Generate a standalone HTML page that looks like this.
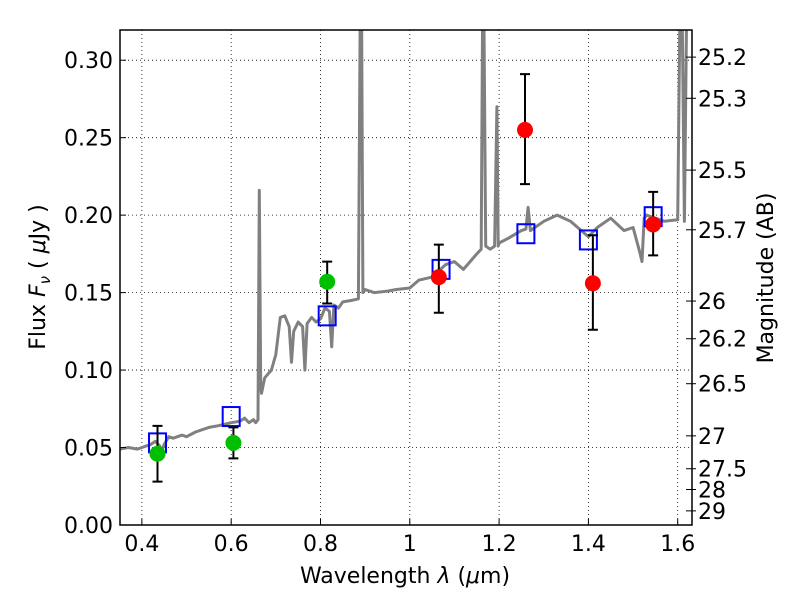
<!DOCTYPE html>
<html><head><meta charset="utf-8"><style>
body{margin:0;background:#fff;}
svg text{font-family:"DejaVu Sans","Liberation Sans",sans-serif;}
</style></head><body>
<svg id="chart" width="800" height="600" xmlns="http://www.w3.org/2000/svg">
<rect width="800" height="600" fill="#fff"/>
<g id="grid"></g>
<g id="plot"></g>
<g id="axes"></g>
<text x="405" y="583" font-size="22" text-anchor="middle">Wavelength  <tspan font-style="italic">λ</tspan> (<tspan font-style="italic">μ</tspan>m)</text>
<text transform="translate(45,277) rotate(-90)" font-size="22" text-anchor="middle">Flux  <tspan font-style="italic">F</tspan><tspan font-style="italic" font-size="15" dy="5">ν</tspan><tspan dy="-5">  (  </tspan><tspan font-style="italic">μ</tspan>Jy )</text>
<text transform="translate(773,278) rotate(-90)" font-size="22" text-anchor="middle">Magnitude (AB)</text>
</svg>
<script>
const specWave=[0.35,0.37,0.39,0.40,0.42,0.43,0.44,0.445,0.45,0.46,0.47,0.49,0.50,0.52,0.55,0.57,0.60,0.62,0.63,0.64,0.65,0.655,0.66,0.663,0.666,0.668,0.675,0.69,0.70,0.71,0.72,0.73,0.735,0.74,0.75,0.76,0.765,0.77,0.78,0.79,0.80,0.81,0.82,0.825,0.83,0.84,0.85,0.87,0.885,0.889,0.892,0.895,0.90,0.92,0.95,0.97,1.00,1.02,1.05,1.08,1.10,1.12,1.15,1.16,1.163,1.166,1.17,1.18,1.19,1.195,1.198,1.20,1.22,1.25,1.26,1.265,1.27,1.30,1.33,1.36,1.40,1.42,1.45,1.48,1.50,1.515,1.52,1.525,1.53,1.55,1.57,1.60,1.605,1.61,1.615,1.62,1.632];
const specFlux=[0.049,0.050,0.049,0.050,0.052,0.054,0.051,0.048,0.052,0.057,0.056,0.058,0.057,0.060,0.063,0.064,0.066,0.067,0.069,0.066,0.068,0.066,0.068,0.216,0.09,0.085,0.095,0.10,0.110,0.134,0.135,0.128,0.105,0.125,0.131,0.128,0.10,0.13,0.134,0.131,0.133,0.140,0.138,0.115,0.142,0.140,0.144,0.145,0.146,0.33,0.33,0.15,0.152,0.150,0.151,0.152,0.153,0.158,0.160,0.168,0.170,0.165,0.175,0.178,0.33,0.33,0.18,0.178,0.18,0.27,0.18,0.182,0.185,0.190,0.191,0.205,0.190,0.196,0.200,0.196,0.186,0.192,0.198,0.190,0.192,0.176,0.17,0.198,0.200,0.198,0.196,0.197,0.33,0.33,0.196,0.33,0.33];
const greenWave=[0.435,0.605,0.815];
const greenFlux=[0.046,0.053,0.157];
const greenLo=[0.028,0.043,0.143];
const greenHi=[0.064,0.063,0.170];
const redWave=[1.065,1.258,1.41,1.545];
const redFlux=[0.160,0.255,0.156,0.194];
const redLo=[0.137,0.220,0.126,0.174];
const redHi=[0.181,0.291,0.187,0.215];
const sqWave=[0.435,0.60,0.815,1.07,1.26,1.40,1.545];
const sqFlux=[0.053,0.070,0.135,0.165,0.188,0.184,0.199];
const xTicks=[0.4,0.6,0.8,1.0,1.2,1.4,1.6];
const xTickLabels=["0.4","0.6","0.8","1","1.2","1.4","1.6"];
const yTicks=[0,0.05,0.10,0.15,0.20,0.25,0.30];
const yTickLabels=["0.00","0.05","0.10","0.15","0.20","0.25","0.30"];
const magTicks=[25.2,25.3,25.5,25.7,26,26.2,26.5,27,27.5,28,29];
const magTickLabels=["25.2","25.3","25.5","25.7","26","26.2","26.5","27","27.5","28","29"];

const L=120,R=692,T=30,B=525;
const XMIN=0.351,XMAX=1.632,YMIN=0,YMAX=0.3195;
const xs=v=>L+(v-XMIN)/(XMAX-XMIN)*(R-L);
const ys=v=>B-(v-YMIN)/(YMAX-YMIN)*(B-T);
const NS="http://www.w3.org/2000/svg";
function mk(tag,attrs,parent){const e=document.createElementNS(NS,tag);for(const k in attrs)e.setAttribute(k,attrs[k]);parent.appendChild(e);return e;}
const grid=document.getElementById('grid'),plot=document.getElementById('plot'),axes=document.getElementById('axes');
xTicks.forEach((t,i)=>{
 const g=mk('line',{x1:xs(t),x2:xs(t),y1:T,y2:B,stroke:'#000','stroke-width':0.8,'stroke-dasharray':'1,3'},grid);
 
 
 const tk=mk('line',{x1:xs(t),x2:xs(t),y1:B,y2:B-6,stroke:'#000'},axes);
 
 
 const lb=mk('text',{x:xs(t),y:B+26,'font-size':22,'text-anchor':'middle'},axes);lb.textContent=xTickLabels[i];
 
 
});
yTicks.forEach((t,i)=>{
 if(t>0){const g=mk('line',{x1:L,x2:R,y1:ys(t),y2:ys(t),stroke:'#000','stroke-width':0.8,'stroke-dasharray':'1,3'},grid);
 
 }
 const tk=mk('line',{x1:L,x2:L+6,y1:ys(t),y2:ys(t),stroke:'#000'},axes);
 
 
 const lb=mk('text',{x:L-7,y:ys(t)+8,'font-size':22,'text-anchor':'end'},axes);lb.textContent=yTickLabels[i];
 
 
});
magTicks.forEach((m,i)=>{
 const f=Math.pow(10,(23.9-m)/2.5);const y=ys(f);
 const tk=mk('line',{x1:R-6,x2:R+4,y1:y,y2:y,stroke:'#000'},axes);
 
 
 const lb=mk('text',{x:R+6,y:y+8,'font-size':22},axes);lb.textContent=magTickLabels[i];
 
 
});
const clip=mk('clipPath',{id:'cp'},plot);mk('rect',{x:L,y:T,width:R-L,height:B-T},clip);
const inner=mk('g',{'clip-path':'url(#cp)'},plot);
const d=specWave.map((w,i)=>(i?'L':'M')+xs(w).toFixed(1)+','+ys(specFlux[i]).toFixed(1)).join('');
const sp=mk('path',{d:d,fill:'none',stroke:'#808080','stroke-width':3,'stroke-linejoin':'round'},inner);


sqWave.forEach((w,i)=>{
 const s=mk('rect',{x:xs(w)-8.5,y:ys(sqFlux[i])-9.5,width:17,height:19,fill:'none',stroke:'#0000ff','stroke-width':2},inner);
 
 
});
function pts(W,F,Lo,Hi,col,name){
 W.forEach((w,i)=>{
  const x=xs(w);
  const e=mk('path',{d:`M${x},${ys(Lo[i])}L${x},${ys(Hi[i])}M${x-5},${ys(Lo[i])}L${x+5},${ys(Lo[i])}M${x-5},${ys(Hi[i])}L${x+5},${ys(Hi[i])}`,stroke:'#000','stroke-width':2},inner);
  
  
  const c=mk('circle',{cx:x,cy:ys(F[i]),r:8,fill:col},inner);
  
  
 });
}
pts(greenWave,greenFlux,greenLo,greenHi,'#00bf00','optical');
pts(redWave,redFlux,redLo,redHi,'#ff0000','nir');
const fr=mk('rect',{x:L,y:T,width:R-L,height:B-T,fill:'none',stroke:'#000','stroke-width':1.5},axes);


</script>
</body></html>
